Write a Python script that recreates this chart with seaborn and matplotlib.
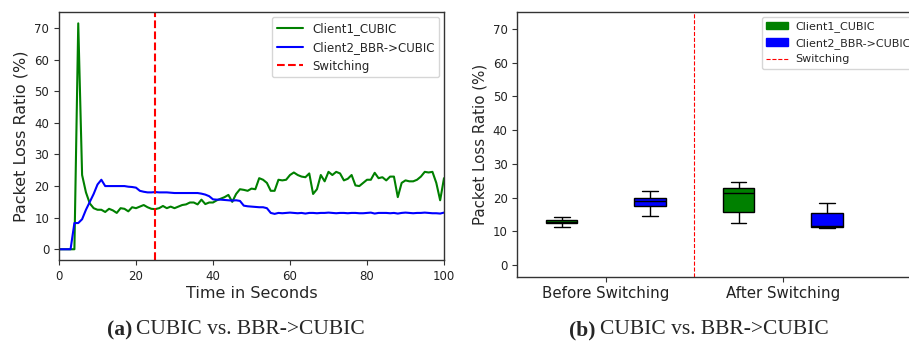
import numpy as np
import pandas as pd
import matplotlib
matplotlib.use("Agg")
import matplotlib.pyplot as plt
import matplotlib.patches as mpatches
from matplotlib.lines import Line2D
import seaborn as sns

sns.set_style("ticks")
plt.rcParams['font.family'] = ['DejaVu Sans']

# ---------------- data ----------------
time_s = list(range(0, 101))
client1_cubic = [
    0, 0, 0, 0, 0, 71.5, 23.5, 18, 14.5, 13,
    12.5, 12.5, 11.8, 12.8, 12.3, 11.5, 13, 12.8, 12, 13.3,
    13, 13.5, 14, 13.3, 12.8, 12.7, 13, 13.7, 13, 13.5,
    13, 13.5, 14, 14.2, 14.8, 14.8, 14.2, 15.7, 14.3, 14.8,
    14.8, 15.5, 16, 16.5, 17.2, 15, 17.5, 19, 18.8, 18.5,
    19.2, 19, 22.5, 22, 21, 18.5, 18.5, 22, 21.8, 22,
    23.5, 24.3, 23.5, 23, 22.8, 24, 17.5, 19, 23.5, 21.5,
    24.5, 23.5, 24.5, 24, 21.8, 22.3, 23.5, 20.2, 20, 21,
    22, 22, 24.2, 22.5, 22.8, 21.8, 23, 23, 16.5, 21,
    21.8, 21.5, 21.5, 22, 23, 24.5, 24.3, 24.5, 21, 15.5,
    22.5,
]
client2_bbr_cubic = [
    0, 0, 0, 0, 8.3, 8.3, 9.5, 12.5, 15, 17.5,
    20.5, 22, 20, 20, 20, 20, 20, 20, 19.8, 19.7,
    19.5, 18.5, 18.2, 18, 18, 18.1, 18, 18, 18, 17.9,
    17.8, 17.8, 17.8, 17.8, 17.8, 17.8, 17.8, 17.6, 17.3, 16.8,
    15.8, 15.7, 15.7, 15.6, 15.5, 15.4, 15.5, 15.3, 13.8, 13.6,
    13.5, 13.4, 13.3, 13.3, 13, 11.5, 11.2, 11.5, 11.4, 11.5,
    11.6, 11.5, 11.4, 11.5, 11.3, 11.5, 11.5, 11.4, 11.5, 11.5,
    11.6, 11.5, 11.4, 11.5, 11.5, 11.4, 11.5, 11.5, 11.4, 11.4,
    11.5, 11.6, 11.3, 11.5, 11.5, 11.5, 11.4, 11.5, 11.3, 11.5,
    11.6, 11.5, 11.4, 11.5, 11.5, 11.6, 11.5, 11.4, 11.4, 11.3,
    11.6,
]
switch_time = 25

periods = ["Before Switching", "After Switching"]
clients = ["Client1_CUBIC", "Client2_BBR->CUBIC"]
# five-number summaries: [low whisker, Q1, median, Q3, high whisker]
box_c1_before = [11.2, 12.4, 12.9, 13.4, 14.3]
box_c2_before = [14.7, 17.5, 19.05, 20.0, 22.1]
box_c1_after = [12.4, 15.9, 21.3, 22.8, 24.6]
box_c2_after = [11.0, 11.45, 11.6, 15.4, 18.3]

colors = {"Client1_CUBIC": "green", "Client2_BBR->CUBIC": "blue"}

# ---------------- figure ----------------
fig = plt.figure(figsize=(9.09, 3.45), dpi=100)
W, H = 909, 345

def axpos(l, r, t, b):
    return [l / W, (H - b) / H, (r - l) / W, (b - t) / H]

ax1 = fig.add_axes(axpos(59, 444, 12.3, 260))
ax2 = fig.add_axes(axpos(517.3, 930, 12, 276.7))

for ax in (ax1, ax2):
    for s in ax.spines.values():
        s.set_color("#333333")
        s.set_linewidth(1.0)

# left line chart
df_line = pd.DataFrame({
    "time": time_s * 2,
    "loss": client1_cubic + client2_bbr_cubic,
    "client": [clients[0]] * len(time_s) + [clients[1]] * len(time_s),
})
sns.lineplot(data=df_line, x="time", y="loss", hue="client", palette=colors,
             ax=ax1, linewidth=1.5, legend=False)
ax1.axvline(switch_time, color="red", linestyle="--", linewidth=1.5)
ax1.set_xlim(0, 100)
ax1.set_ylim(-3.4, 75)
ax1.set_yticks(range(0, 71, 10))
ax1.set_xticks(range(0, 101, 20))
ax1.tick_params(labelsize=8.5, colors="#333333", labelcolor="#222222")
ax1.set_xlabel("Time in Seconds", fontsize=11.5, labelpad=2)
ax1.set_ylabel("Packet Loss Ratio (%)", fontsize=11.5, labelpad=4)
h1 = [Line2D([], [], color="green", lw=1.5),
      Line2D([], [], color="blue", lw=1.5),
      Line2D([], [], color="red", lw=1.5, ls="--")]
ax1.legend(h1, clients + ["Switching"], loc="upper right", fontsize=8.5,
           handlelength=2.2, borderaxespad=0.4)

# right box chart
rows = []
for period, c1, c2 in [(periods[0], box_c1_before, box_c2_before),
                       (periods[1], box_c1_after, box_c2_after)]:
    for v in c1:
        rows.append((period, clients[0], v))
    for v in c2:
        rows.append((period, clients[1], v))
df_box = pd.DataFrame(rows, columns=["period", "client", "loss"])
sns.boxplot(data=df_box, x="period", y="loss", hue="client", order=periods,
            hue_order=clients, palette=colors, width=1.0, gap=0.64,
            linecolor="black", linewidth=1.0, saturation=1.0, whis=1.5,
            showfliers=False, ax=ax2, legend=False)
ax2.axvline(0.5, color="red", linestyle="--", linewidth=0.8)
ax2.set_xlim(-0.5, 1.832)
ax2.set_ylim(-3.4, 75)
ax2.set_yticks(range(0, 71, 10))
ax2.tick_params(axis="y", labelsize=8.5, colors="#333333", labelcolor="#222222")
ax2.tick_params(axis="x", labelsize=10.8, colors="#333333", labelcolor="#222222")
ax2.set_xlabel("")
ax2.set_ylabel("Packet Loss Ratio (%)", fontsize=10.8, labelpad=4)
h2 = [mpatches.Patch(color="green"), mpatches.Patch(color="blue"),
      Line2D([], [], color="red", lw=0.8, ls="--")]
ax2.legend(h2, clients + ["Switching"], loc="upper left",
           bbox_to_anchor=((761.7 - 517.3) / (930 - 517.3), 0.981),
           borderaxespad=0, fontsize=8, handlelength=2.0, handletextpad=0.6)

# captions
serif = ["Liberation Serif", "DejaVu Serif"]
for xs, lab in [(132, "a"), (596, "b")]:
    fig.text(xs / W, 1 - 330 / H, "(" + lab + ")", ha="right", va="center",
             fontsize=15.5, fontweight="bold", family=serif)
    fig.text((xs + 4) / W, 1 - 330 / H, "CUBIC vs. BBR->CUBIC", ha="left",
             va="center", fontsize=15.5, family=serif)

fig.savefig("out.png", dpi=100)
